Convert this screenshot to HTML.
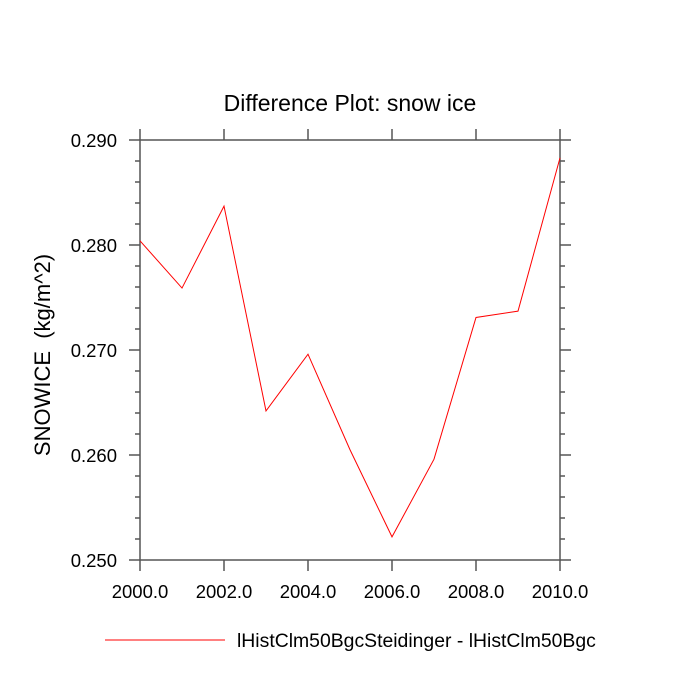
<!DOCTYPE html>
<html><head><meta charset="utf-8"><style>body{margin:0;background:#fff}svg{display:block;font-family:"Liberation Sans",sans-serif}</style></head>
<body>
<svg id="c" width="700" height="700">
<text x="350" y="111" font-size="23" text-anchor="middle">Difference Plot: snow ice</text>
<text transform="translate(50,355) rotate(-90)" font-size="22" text-anchor="middle" style="white-space:pre">SNOWICE  (kg/m^2)</text>
<g id="ax"></g>
<line x1="105" y1="640" x2="225" y2="640" stroke="#f00" stroke-width="1"/>
<text x="237" y="647" font-size="19.4">lHistClm50BgcSteidinger - lHistClm50Bgc</text>
</svg>
<script>
const years=[2000,2001,2002,2003,2004,2005,2006,2007,2008,2009,2010];
const values=[0.2804,0.2759,0.2837,0.2642,0.2696,0.2605,0.2522,0.2596,0.2731,0.2737,0.2883];
const xTicks=[2000,2002,2004,2006,2008,2010];
const yTicks=[0.250,0.260,0.270,0.280,0.290];
const L=140,R=560,T=140,B=560;
const xs=v=>L+(v-2000)/10*(R-L);
const ys=v=>B-(v-0.25)/0.04*(B-T);
const g=document.getElementById('ax');const NS='http://www.w3.org/2000/svg';
function ln(x1,y1,x2,y2,c,w,n){const e=document.createElementNS(NS,'line');e.setAttribute('x1',x1);e.setAttribute('y1',y1);e.setAttribute('x2',x2);e.setAttribute('y2',y2);e.setAttribute('stroke',c);e.setAttribute('stroke-width',w);


g.appendChild(e);}
function tx(x,y,s,a,n){const e=document.createElementNS(NS,'text');e.setAttribute('x',x);e.setAttribute('y',y);e.setAttribute('font-size','18.5');e.setAttribute('text-anchor',a);e.textContent=s;


g.appendChild(e);}
const gc='#555';
for(let k=0;k<=20;k++){const y=B-k*(B-T)/20;const maj=k%5==0;const len=maj?11:5;ln(L-len,y,L,y,gc,1.5,'y-tick');ln(R,y,R+len,y,gc,1.5,'y-tick-right');}
xTicks.forEach(v=>{const x=xs(v);ln(x,B,x,B+11,gc,1.5,'x-tick');ln(x,T-11,x,T,gc,1.5,'x-tick-top');tx(x,598,v.toFixed(1),'middle','x-tick-label');});
yTicks.forEach(v=>tx(117,ys(v)+7,v.toFixed(3),'end','y-tick-label'));
const r=document.createElementNS(NS,'rect');r.setAttribute('x',L);r.setAttribute('y',T);r.setAttribute('width',R-L);r.setAttribute('height',B-T);r.setAttribute('fill','none');r.setAttribute('stroke',gc);r.setAttribute('stroke-width','1.5');


g.appendChild(r);
const p=document.createElementNS(NS,'polyline');p.setAttribute('points',years.map((y,i)=>xs(y)+','+ys(values[i])).join(' '));p.setAttribute('fill','none');p.setAttribute('stroke','#f00');p.setAttribute('stroke-width','1');


g.appendChild(p);
</script>
</body></html>
